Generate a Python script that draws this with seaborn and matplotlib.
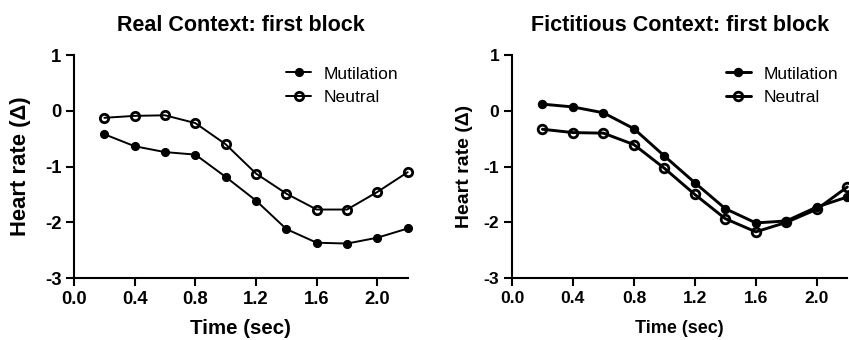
import matplotlib
matplotlib.use("Agg")
import matplotlib.pyplot as plt
import seaborn as sns
import pandas as pd

# time points (sec)
time = [0.2, 0.4, 0.6, 0.8, 1.0, 1.2, 1.4, 1.6, 1.8, 2.0, 2.2]

# Real context: first block
real_mutilation = [-0.42, -0.635, -0.74, -0.785, -1.185, -1.61, -2.12, -2.365, -2.38, -2.275, -2.11]
real_neutral = [-0.125, -0.09, -0.08, -0.22, -0.6, -1.125, -1.485, -1.77, -1.77, -1.455, -1.1]

# Fictitious context: first block
fict_mutilation = [0.12, 0.07, -0.035, -0.32, -0.81, -1.29, -1.755, -2.01, -1.975, -1.725, -1.545]
fict_neutral = [-0.33, -0.39, -0.40, -0.605, -1.03, -1.5, -1.935, -2.17, -2.0, -1.765, -1.365]

x_ticks = [0.0, 0.4, 0.8, 1.2, 1.6, 2.0]
y_ticks = [1, 0, -1, -2, -3]

sns.set_style("ticks")
plt.rcParams['font.family'] = ['Liberation Sans', 'DejaVu Sans']
plt.rcParams['text.color'] = 'black'
plt.rcParams['axes.labelcolor'] = 'black'
plt.rcParams['xtick.color'] = 'black'
plt.rcParams['ytick.color'] = 'black'

fig = plt.figure(figsize=(8.49, 3.40), dpi=100)
ax1 = fig.add_axes([0.0872, 0.182, 0.393, 0.656])
ax2 = fig.add_axes([0.603, 0.182, 0.395, 0.656])


def draw_panel(ax, mut, neu, title, lw, lab_size, tick_size, ms1, ms2, xpad, ypad):
    df = pd.DataFrame({"time": time * 2,
                       "hr": mut + neu,
                       "cond": ["Mutilation"] * len(time) + ["Neutral"] * len(time)})
    sns.lineplot(data=df[df.cond == "Mutilation"], x="time", y="hr", ax=ax,
                 color="black", lw=lw, marker="o", ms=ms1, mfc="black", mec="black",
                 label="Mutilation", clip_on=False, zorder=3)
    sns.lineplot(data=df[df.cond == "Neutral"], x="time", y="hr", ax=ax,
                 color="black", lw=lw, marker="o", ms=ms2, mfc="none", mec="black",
                 mew=2.0, label="Neutral", clip_on=False, zorder=4)
    ax.set_xlim(0, 2.2)
    ax.set_ylim(-3, 1)
    ax.set_xticks(x_ticks)
    ax.set_xticklabels([f"{t:.1f}" for t in x_ticks])
    ax.set_yticks(y_ticks)
    ax.set_yticklabels([str(t) for t in y_ticks])
    for lbl in ax.get_xticklabels() + ax.get_yticklabels():
        lbl.set_fontweight("bold")
        lbl.set_fontsize(tick_size)
    ax.tick_params(direction="out", length=6, width=1.5, color="black", pad=3)
    sns.despine(ax=ax)
    for s in ["left", "bottom"]:
        ax.spines[s].set_linewidth(1.5)
        ax.spines[s].set_color("black")
    ax.set_title(title, fontsize=15.5, fontweight="bold", pad=17)
    ax.set_xlabel("Time (sec)", fontsize=lab_size, fontweight="bold", labelpad=xpad)
    ax.set_ylabel("Heart rate (Δ)", fontsize=lab_size + 1, fontweight="bold", labelpad=ypad)
    ax.legend(loc="upper right", bbox_to_anchor=(1.02, 1.02), frameon=False,
              fontsize=12.6, handlelength=1.4, handletextpad=0.75, labelspacing=0.45)


draw_panel(ax1, real_mutilation, real_neutral, "Real Context: first block",
           1.4, 14.8, 13.3, 5.8, 6.0, 8, 10)
draw_panel(ax2, fict_mutilation, fict_neutral, "Fictitious Context: first block",
           2.1, 13.0, 12.6, 6.0, 6.2, 10, 8)

fig.savefig("out.png", dpi=100)
